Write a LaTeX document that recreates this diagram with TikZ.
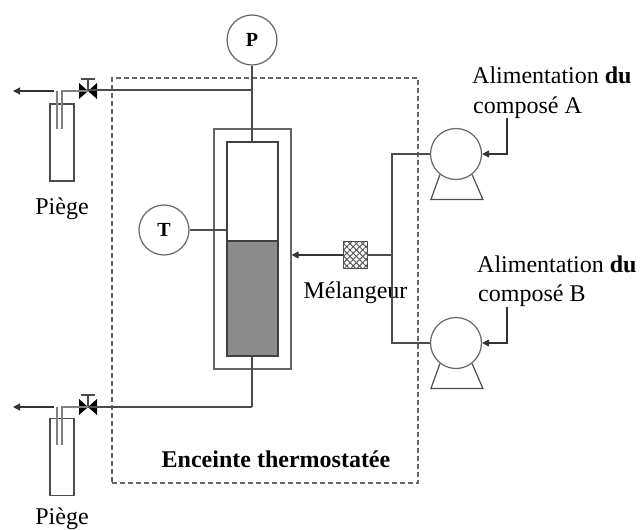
\documentclass[tikz,border=0pt]{standalone}
\usepackage{fontspec}
\setmainfont{Liberation Serif}
\usetikzlibrary{positioning,arrows.meta,patterns.meta}
\tikzset{
  pipe/.style={line width=1.2pt, color=black!70},
  flow/.style={pipe, -{Triangle[width=7pt,length=7pt]}, color=black!80},
  gauge/.style={circle, draw=black!60, line width=1.2pt, minimum size=50pt, inner sep=0pt, font=\bfseries\fontsize{20}{20}\selectfont},
  pumpbody/.style={circle, draw=black!60, line width=1.2pt, minimum size=51pt, inner sep=0pt},
  vessel/.style={draw=black!75, line width=1.2pt, minimum width=#1, inner sep=0pt},
  label/.style={inner sep=0pt, font=\fontsize{24}{24}\selectfont},
  valve/.pic={
    \fill[black] (-9,-8) -- (0,0) -- (-9,8) -- cycle;
    \fill[black] (9,-8) -- (0,0) -- (9,8) -- cycle;
    \draw[pipe] (0,0) -- (0,-12);
    \draw[pipe] (-7,-12) -- (7,-12);
  }
}
\begin{document}
\begin{tikzpicture}[x=1pt,y=-1pt]
    \useasboundingbox (0,0) rectangle (641,530);

    % enceinte
    \node[draw=black!60, dash pattern=on 5pt off 3pt, line width=1.2pt, minimum width=306pt, minimum height=405pt, inner sep=0pt] (enceinte) at (265,280.5) {};
    \node[font=\bfseries\fontsize{24}{24}\selectfont, inner sep=0pt, anchor=base] (enceinteLabel) at (276,467) {Enceinte thermostatée};

    % reacteur
    \node[vessel=77pt, draw=black!60, minimum height=240pt] (outer) at (252.5,249) {};
    \node[vessel=51pt, minimum height=99pt] (gas) at (252.5,191.5) {};
    \node[vessel=51pt, minimum height=115pt, fill=black!45] (liquid) at (252.5,298.5) {};

    \node[gauge] (P) at (252,40) {P};
    \node[gauge] (T) at (164,230) {T};
    \coordinate (topTee) at (252,90);
    \coordinate (botTee) at (252,407);
    \coordinate (Tend) at (gas.west |- T);
    \draw[pipe] (P) -- (topTee);
    \draw[pipe] (topTee) -- (gas.north -| topTee);
    \draw[pipe] (T) -- (Tend);
    \draw[pipe] (liquid.south -| botTee) -- (botTee);

    % piege du haut
    \coordinate (valveA) at (88,91);
    \pic at (valveA) {valve};
    \draw[pipe] (topTee) -- (valveA |- topTee);
    \node[draw=black!70, line width=1.2pt, minimum width=24pt, minimum height=77pt, inner sep=0pt] (trapA) at (62,142.5) {};
    \coordinate (dipA) at (62,129);
    \coordinate (ventA) at (57,129);
    \coordinate (outA) at (13,91);
    \draw[pipe, color=black!50] (valveA) -- (62,91) -- (dipA);
    \draw[pipe, color=black!50] (ventA) -- (57,91);
    \draw[flow] (54,91) -- (outA);
    \node[label, below=16pt of trapA] (piegeA) {Piège};

    % piege du bas
    \coordinate (valveB) at (88,407);
    \pic at (valveB) {valve};
    \draw[pipe] (botTee) -- (valveB);
    \node[draw=black!70, line width=1.2pt, minimum width=24pt, minimum height=77pt, inner sep=0pt] (trapB) at (62,457) {};
    \coordinate (dipB) at (62,445);
    \coordinate (ventB) at (57,445);
    \coordinate (outB) at (13,407);
    \draw[pipe, color=black!50] (valveB) -- (62,407) -- (dipB);
    \draw[pipe, color=black!50] (ventB) -- (57,407);
    \draw[flow] (54,407) -- (outB);
    \node[label, below=12pt of trapB] (piegeB) {Piège};

    % melangeur
    \node[draw=black!70, line width=0.8pt, pattern={Lines[angle=45,distance=4.5pt,line width=1pt]}, pattern color=black!65,
      postaction={pattern={Lines[angle=-45,distance=4.5pt,line width=1pt]}, pattern color=black!65},
      minimum width=24pt, minimum height=27pt, inner sep=0pt] (mixer) at (355.5,255) {};
    \node[label, anchor=base] (mixerLabel) at (355.5,298) {Mélangeur};
    \draw[flow] (mixer) -- (outer.east |- mixer);

    % pompes
    \node[pumpbody] (pumpA) at (456,154) {};
    \node[pumpbody] (pumpB) at (456,343) {};
    \coordinate (manifold) at (392,255);
    \draw[pipe] (mixer) -- (manifold);
    \draw[pipe] (pumpA) -- (manifold |- pumpA) -- (manifold |- pumpB) -- (pumpB);
    \draw[pipe] (pumpA.232) -- ++(-9,25) -- ++(52,0) -- (pumpA.308);
    \draw[pipe] (pumpB.232) -- ++(-9,25) -- ++(52,0) -- (pumpB.308);

    % alimentations
    \node[label, anchor=base west] (feedA) at (472,83) {Alimentation {\bfseries du}};
    \node[label, anchor=base west] (feedAb) at (473,113) {composé A};
    \node[label, anchor=base west] (feedB) at (477,272) {Alimentation {\bfseries du}};
    \node[label, anchor=base west] (feedBb) at (478,301) {composé B};
    \coordinate (inA) at (507,118);
    \coordinate (inB) at (507,307);
    \draw[flow] (inA) -- (inA |- pumpA) -- (pumpA);
    \draw[flow] (inB) -- (inB |- pumpB) -- (pumpB);
\end{tikzpicture}
\end{document}
